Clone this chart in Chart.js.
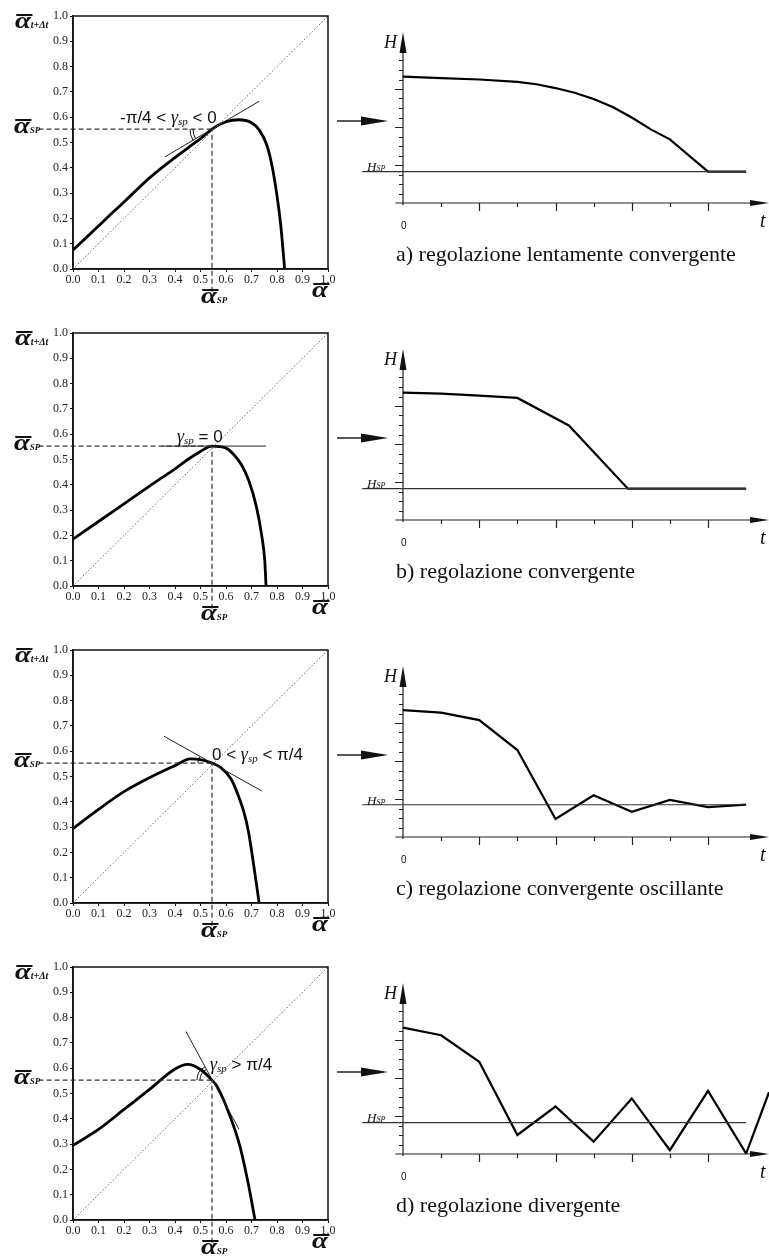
<!DOCTYPE html>
<html>
<head>
<meta charset="utf-8">
<title>Regolazione</title>
<script src="https://cdn.jsdelivr.net/npm/chart.js@4.4.1/dist/chart.umd.min.js"></script>
<style>
  body { margin: 0; background: #fff; }
  #page { position: relative; width: 769px; height: 1258px; overflow: hidden; font-family: 'Liberation Serif', serif; color: #111; }
  .row { position: absolute; left: 0; width: 769px; height: 317px; }
  .row canvas { position: absolute; top: 0; }
  .lbl { position: absolute; white-space: nowrap; line-height: 1; }
  .ab { position: relative; display: inline-block; font-size: 23px; font-weight: bold; font-style: italic; transform: scaleX(1.25); transform-origin: left center; margin-right: 3px; }
  .ab::before { content: ''; position: absolute; left: 1px; right: -1px; top: 0.22em; border-top: 2px solid #111; }
  .sb { font-size: 10px; font-weight: bold; font-style: italic; }
  .sp { font-size: 9px; }
  .ann { font-family: 'Liberation Sans', sans-serif; font-size: 17px; }
  .ann i { font-family: 'Liberation Serif', serif; font-size: 18px; }
  .ann sub { font-family: 'Liberation Serif', serif; font-style: italic; font-size: 11px; vertical-align: -2px; }
  .cap { font-size: 22px; }
</style>
</head>
<body>
<div id="page"></div>
<script>
// ---- map panels (left): alpha(t+dt) vs alpha(t)
var ALPHA_TICKS = [0, 0.1, 0.2, 0.3, 0.4, 0.5, 0.6, 0.7, 0.8, 0.9, 1.0];
var ALPHA_SP = 0.545;
var ALPHA_SP_Y = 0.553;
var DIAG = [0, 1];
var DASH_H_X = [-0.135, 0.545];
var DASH_V_Y = [-0.09, 0.553];

var mapA_x = [0, 0.05, 0.1, 0.15, 0.2, 0.25, 0.3, 0.35, 0.4, 0.45, 0.5, 0.545, 0.6, 0.65, 0.7, 0.73, 0.76, 0.78, 0.8, 0.815, 0.83];
var mapA_y = [0.075, 0.122, 0.17, 0.218, 0.265, 0.313, 0.36, 0.402, 0.44, 0.478, 0.515, 0.553, 0.582, 0.59, 0.578, 0.55, 0.49, 0.41, 0.29, 0.17, 0.0];
var tanA_x = [0.36, 0.73];
var tanA_y = [0.443, 0.663];

var mapB_x = [0, 0.1, 0.2, 0.3, 0.4, 0.45, 0.5, 0.545, 0.6, 0.63, 0.66, 0.69, 0.72, 0.74, 0.752, 0.757];
var mapB_y = [0.185, 0.255, 0.325, 0.395, 0.463, 0.5, 0.532, 0.553, 0.545, 0.52, 0.48, 0.415, 0.31, 0.2, 0.1, 0.0];
var tanB_x = [0.35, 0.757];
var tanB_y = [0.553, 0.553];

var mapC_x = [0, 0.1, 0.2, 0.3, 0.4, 0.46, 0.5, 0.545, 0.58, 0.62, 0.65, 0.67, 0.688, 0.71, 0.73];
var mapC_y = [0.294, 0.37, 0.44, 0.495, 0.543, 0.57, 0.567, 0.553, 0.535, 0.49, 0.42, 0.36, 0.283, 0.14, 0.0];
var tanC_x = [0.357, 0.74];
var tanC_y = [0.659, 0.443];

var mapD_x = [0, 0.1, 0.2, 0.3, 0.4, 0.45, 0.5, 0.545, 0.565, 0.616, 0.655, 0.686, 0.714];
var mapD_y = [0.295, 0.358, 0.437, 0.516, 0.597, 0.615, 0.595, 0.553, 0.528, 0.41, 0.29, 0.15, 0.0];
var tanD_x = [0.443, 0.651];
var tanD_y = [0.745, 0.359];

// ---- time panels (right): H vs t
var H_TICKS = [1, 2, 3, 4, 5, 6, 7, 8, 9, 10, 11, 12, 13, 14, 15];
var H_MAJOR = [4, 8, 12];
var T_TICKS = [1, 2, 3, 4, 5, 6, 7, 8];
var T_MAJOR = [2, 4, 6, 8];
var HSP_T = [-1.07, 9];

var runA_t = [0, 1, 2, 3, 3.5, 4, 4.5, 5, 5.5, 6, 6.5, 7, 8, 9];
var runA_H = [13.3, 13.15, 13.0, 12.75, 12.5, 12.1, 11.6, 10.95, 10.1, 9.0, 7.75, 6.7, 3.3, 3.3];
var HSP_A = 3.3;

var runB_t = [0, 1, 2, 3, 4.35, 5.9, 9];
var runB_H = [13.4, 13.3, 13.1, 12.85, 9.95, 3.3, 3.3];
var HSP_B = 3.3;

var runC_t = [0, 1, 2, 3, 4, 5, 6, 7, 8, 9];
var runC_H = [13.35, 13.1, 12.3, 9.15, 1.9, 4.4, 2.65, 3.9, 3.15, 3.4];
var HSP_C = 3.4;

var runD_t = [0, 1, 2, 3, 4, 5, 6, 7, 8, 9, 9.6];
var runD_H = [13.3, 12.5, 9.7, 2.0, 5.0, 1.3, 5.85, 0.4, 6.65, 0.05, 6.5];
var HSP_D = 3.3;

var CAPTIONS = [
    'a) regolazione lentamente convergente',
    'b) regolazione convergente',
    'c) regolazione convergente oscillante',
    'd) regolazione divergente'
];
var ANGLE_LABELS = [
    '-π/4 &lt; <i>γ</i><sub>sp</sub> &lt; 0',
    '<i>γ</i><sub>sp</sub> = 0',
    '0 &lt; <i>γ</i><sub>sp</sub> &lt; π/4',
    '<i>γ</i><sub>sp</sub> &gt; π/4'
];

var panels = [
    { mapX: mapA_x, mapY: mapA_y, tanX: tanA_x, tanY: tanA_y, arc: [19, 22], runT: runA_t, runH: runA_H, hsp: HSP_A, annPos: [120, 108] },
    { mapX: mapB_x, mapY: mapB_y, tanX: tanB_x, tanY: tanB_y, arc: null, runT: runB_t, runH: runB_H, hsp: HSP_B, annPos: [177, 110] },
    { mapX: mapC_x, mapY: mapC_y, tanX: tanC_x, tanY: tanC_y, arc: [14], runT: runC_t, runH: runC_H, hsp: HSP_C, annPos: [212, 111] },
    { mapX: mapD_x, mapY: mapD_y, tanX: tanD_x, tanY: tanD_y, arc: [12, 15], runT: runD_t, runH: runD_H, hsp: HSP_D, annPos: [210, 104] }
];

Chart.defaults.font.family = "'Liberation Serif', serif";

function pts(xs, ys) {
    return xs.map(function(x, i) { return { x: x, y: ys[i] }; });
}

// frame of the square plot + the small angle arcs at the fixed point
var mapDecor = {
    id: 'mapDecor',
    afterDraw: function(chart, args, opts) {
        var ctx = chart.ctx, a = chart.chartArea;
        ctx.save();
        ctx.strokeStyle = '#111';
        ctx.lineWidth = 1.5;
        ctx.strokeRect(a.left, a.top, a.right - a.left, a.bottom - a.top);
        if (opts.arc) {
            var fx = chart.scales.x.getPixelForValue(ALPHA_SP);
            var fy = chart.scales.y.getPixelForValue(ALPHA_SP_Y);
            var p0 = chart.getDatasetMeta(3).data[0];
            var ang = Math.atan2(p0.y - fy, p0.x - fx);
            if (ang < 0) ang += 2 * Math.PI;
            var a0 = Math.min(ang, Math.PI), a1 = Math.max(ang, Math.PI);
            ctx.lineWidth = 1;
            opts.arc.forEach(function(r) {
                ctx.beginPath();
                ctx.arc(fx, fy, r, a0, a1);
                ctx.stroke();
            });
        }
        ctx.restore();
    }
};

// hand-drawn style axes with arrows for the H(t) panels
var timeAxes = {
    id: 'timeAxes',
    beforeDatasetsDraw: function(chart) {
        var ctx = chart.ctx, x = chart.scales.x, y = chart.scales.y;
        var x0 = x.getPixelForValue(0), y0 = y.getPixelForValue(0);
        var xEnd = x.getPixelForValue(9.6), yTop = y.getPixelForValue(18);
        ctx.save();
        ctx.strokeStyle = '#222';
        ctx.fillStyle = '#111';
        ctx.lineWidth = 1.2;
        ctx.beginPath();
        ctx.moveTo(x.getPixelForValue(-0.2), y0); ctx.lineTo(xEnd - 10, y0);
        ctx.moveTo(x0, y.getPixelForValue(-0.2)); ctx.lineTo(x0, yTop + 12);
        H_TICKS.forEach(function(h) {
            var len = H_MAJOR.indexOf(h) >= 0 ? 8 : 4;
            var py = Math.round(y.getPixelForValue(h)) + 0.5;
            ctx.moveTo(x0 - len, py); ctx.lineTo(x0, py);
        });
        T_TICKS.forEach(function(t) {
            var len = T_MAJOR.indexOf(t) >= 0 ? 8 : 4;
            var px = Math.round(x.getPixelForValue(t)) + 0.5;
            ctx.moveTo(px, y0); ctx.lineTo(px, y0 + len);
        });
        ctx.stroke();
        // arrow heads
        ctx.beginPath();
        ctx.moveTo(x0, yTop); ctx.lineTo(x0 - 3.5, yTop + 21); ctx.lineTo(x0 + 3.5, yTop + 21); ctx.closePath();
        ctx.moveTo(xEnd, y0); ctx.lineTo(xEnd - 19, y0 - 3); ctx.lineTo(xEnd - 19, y0 + 3); ctx.closePath();
        ctx.fill();
        // big arrow from the map panel
        var ay = 121, al = chart.chartArea.left;
        ctx.lineWidth = 1.5;
        ctx.beginPath();
        ctx.moveTo(al - 66, ay); ctx.lineTo(al - 40, ay);
        ctx.stroke();
        ctx.beginPath();
        ctx.moveTo(al - 42, ay - 4.5); ctx.lineTo(al - 15, ay); ctx.lineTo(al - 42, ay + 4.5); ctx.closePath();
        ctx.fill();
        ctx.restore();
    }
};

function mapChart(canvas, p) {
    var line = { showLine: true, pointRadius: 0, fill: false };
    return new Chart(canvas, {
        type: 'scatter',
        data: {
            datasets: [
                Object.assign({ data: pts(DIAG, DIAG), borderColor: '#666', borderWidth: 1, borderDash: [1.5, 2] }, line),
                Object.assign({ data: pts(DASH_H_X, [ALPHA_SP_Y, ALPHA_SP_Y]), borderColor: '#333', borderWidth: 1.2, borderDash: [5, 3], clip: false }, line),
                Object.assign({ data: pts([ALPHA_SP, ALPHA_SP], DASH_V_Y), borderColor: '#333', borderWidth: 1.2, borderDash: [5, 3], clip: false }, line),
                Object.assign({ data: pts(p.tanX, p.tanY), borderColor: '#222', borderWidth: 1 }, line),
                Object.assign({ data: pts(p.mapX, p.mapY), borderColor: '#000', borderWidth: 2.8, cubicInterpolationMode: 'monotone' }, line)
            ]
        },
        options: {
            animation: false,
            responsive: false,
            layout: { padding: { left: 38, right: 12, top: 16, bottom: 30 } },
            plugins: { legend: { display: false }, tooltip: { enabled: false }, mapDecor: { arc: p.arc } },
            scales: {
                x: {
                    type: 'linear', min: 0, max: 1,
                    afterFit: function(s) { s.height = 18; },
                    afterBuildTicks: function(s) { s.ticks = ALPHA_TICKS.map(function(v) { return { value: v }; }); },
                    ticks: { callback: function(v) { return v.toFixed(1); }, font: { size: 12 }, color: '#222', padding: 1, maxRotation: 0, autoSkip: false },
                    grid: { drawOnChartArea: false, tickLength: 3, color: '#111' },
                    border: { color: '#111', width: 1.5 }
                },
                y: {
                    type: 'linear', min: 0, max: 1,
                    afterFit: function(s) { s.width = 35; },
                    afterBuildTicks: function(s) { s.ticks = ALPHA_TICKS.map(function(v) { return { value: v }; }); },
                    ticks: { callback: function(v) { return v.toFixed(1); }, font: { size: 12 }, color: '#222', padding: 2, autoSkip: false },
                    grid: { drawOnChartArea: false, tickLength: 3, color: '#111' },
                    border: { color: '#111', width: 1.5 }
                }
            }
        },
        plugins: [mapDecor]
    });
}

function timeChart(canvas, p) {
    return new Chart(canvas, {
        type: 'scatter',
        data: {
            datasets: [
                { data: pts(HSP_T, [p.hsp, p.hsp]), showLine: true, pointRadius: 0, borderColor: '#333', borderWidth: 1.1, clip: false },
                { data: pts(p.runT, p.runH), showLine: true, pointRadius: 0, borderColor: '#000', borderWidth: 2.2 }
            ]
        },
        options: {
            animation: false,
            responsive: false,
            layout: { padding: { left: 73, right: 0, top: 32, bottom: 114 } },
            plugins: { legend: { display: false }, tooltip: { enabled: false } },
            scales: {
                x: { type: 'linear', display: false, min: 0, max: 9.6 },
                y: { type: 'linear', display: false, min: 0, max: 18 }
            }
        },
        plugins: [timeAxes]
    });
}

function label(row, left, top, cls, html) {
    var d = document.createElement('div');
    d.className = 'lbl' + (cls ? ' ' + cls : '');
    d.style.left = left + 'px';
    d.style.top = top + 'px';
    d.innerHTML = html;
    row.appendChild(d);
}

var page = document.getElementById('page');
var ALPHA_SP_HTML = '<span class="ab">α</span><span class="sb sp">SP</span>';

panels.forEach(function(p, i) {
    var row = document.createElement('div');
    row.className = 'row';
    row.style.top = (i * 317) + 'px';
    page.appendChild(row);

    var c1 = document.createElement('canvas');
    c1.width = 340; c1.height = 317; c1.style.left = '0px';
    row.appendChild(c1);
    var c2 = document.createElement('canvas');
    c2.width = 439; c2.height = 317; c2.style.left = '330px';
    row.appendChild(c2);

    mapChart(c1, p);
    timeChart(c2, p);

    // map panel labels
    label(row, 15, 9, '', '<span class="ab">α</span><span class="sb">t+Δt</span>');
    label(row, 14, 114, '', ALPHA_SP_HTML);
    label(row, 201, 284, '', ALPHA_SP_HTML);
    label(row, 312, 278, '', '<span class="ab">α</span>');
    label(row, p.annPos[0], p.annPos[1], 'ann', ANGLE_LABELS[i]);

    // time panel labels
    label(row, 384, 33, '', '<i style="font-size:18px">H</i>');
    label(row, 367, 158, '', '<i style="font-size:13px">H</i><i style="font-size:8px">SP</i>');
    label(row, 401, 216, '', '<span style="font-family:\'Liberation Sans\',sans-serif;font-size:10px">0</span>');
    label(row, 760, 210, '', '<i style="font-size:20px">t</i>');
    label(row, 396, 243, 'cap', CAPTIONS[i]);
});
</script>
</body>
</html>
